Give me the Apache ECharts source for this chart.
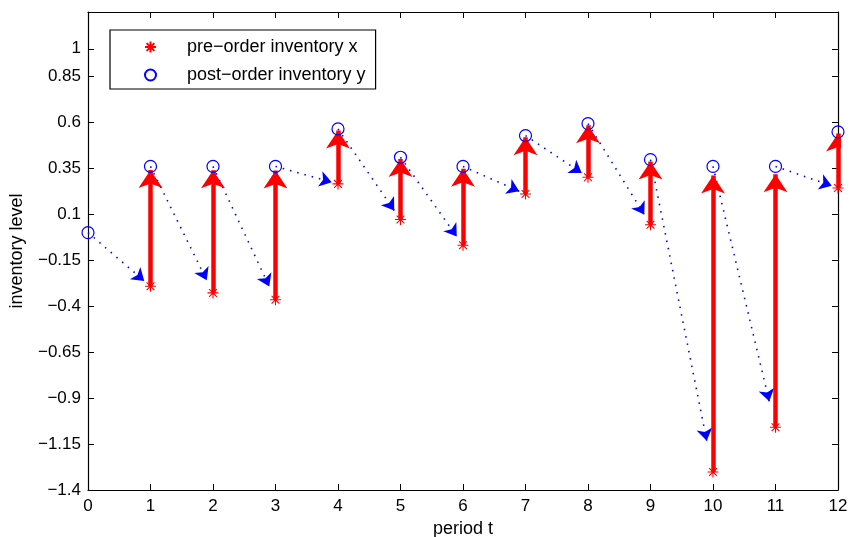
<!DOCTYPE html>
<html><head><meta charset="utf-8">
<script src="https://cdn.jsdelivr.net/npm/echarts@6/dist/echarts.min.js"></script>
<style>html,body{margin:0;padding:0;background:#fff}#c{width:852px;height:537px}</style>
</head><body><div id="c"></div>
<script>
const periods = [0, 1, 2, 3, 4, 5, 6, 7, 8, 9, 10, 11, 12];
const postOrder = [0, 0.36, 0.36, 0.36, 0.564, 0.41, 0.36, 0.528, 0.593, 0.397, 0.36, 0.36, 0.548];
const preOrder = [null, -0.292, -0.328, -0.365, 0.265, 0.071, -0.069, 0.21, 0.301, 0.043, -1.302, -1.059, 0.243];
const yTickLabels = [-1.4, -1.15, -0.9, -0.65, -0.4, -0.15, 0.1, 0.35, 0.6, 0.85, 1];
const xTickLabels = [0, 1, 2, 3, 4, 5, 6, 7, 8, 9, 10, 11, 12];

const RED_SCALE = 0.97, BLUE_SCALE = 0.9;
const FONT = 'Liberation Sans, Arial, Helvetica, sans-serif';
const STAR = 'path://M6,0L6,12M0,6L12,6M1.76,1.76L10.24,10.24M1.76,10.24L10.24,1.76';
const minus = v => String(v).replace('-', '\u2212');

const redArrows = [], blueArrows = [];
for (let i = 1; i < periods.length; i++) {
  const x = preOrder[i], y = postOrder[i];
  redArrows.push({coords: [[periods[i], x], [periods[i], x + RED_SCALE * (y - x)]]});
  const x0 = periods[i - 1], y0 = postOrder[i - 1];
  blueArrows.push({coords: [[x0, y0], [x0 + BLUE_SCALE * (periods[i] - x0), y0 + BLUE_SCALE * (x - y0)]]});
}

const chart = echarts.init(document.getElementById('c'), null, {renderer: 'canvas'});
const axisLine = {show: true, onZero: false, lineStyle: {color: '#000', width: 1.2}};
const tick = {inside: true, length: 6, lineStyle: {color: '#000'}};
chart.setOption({
  animation: false,
  backgroundColor: '#fff',
  textStyle: {fontFamily: FONT},
  grid: {left: 88, right: 14, top: 12, bottom: 47, containLabel: false, outerBoundsMode: 'none'},
  legend: {
    left: 110, top: 30, orient: 'vertical',
    backgroundColor: '#fff', borderColor: '#000', borderWidth: 1.2,
    padding: [7, 10, 4, 34], itemGap: 8, itemWidth: 11, itemHeight: 11,
    textStyle: {fontFamily: FONT, fontSize: 18, lineHeight: 20, color: '#000', padding: [0, 0, 0, 26]},
    data: ['pre\u2212order inventory x', 'post\u2212order inventory y']
  },
  xAxis: [{
    type: 'value', min: 0, max: 12, interval: 1,
    name: 'period t', nameLocation: 'middle', nameGap: 27,
    nameTextStyle: {fontSize: 18, color: '#000', fontFamily: FONT},
    axisLine: axisLine, splitLine: {show: false},
    axisTick: tick,
    axisLabel: {fontSize: 17, color: '#000', margin: 8, fontFamily: FONT,
      customValues: xTickLabels, formatter: v => minus(v)}
  }, {
    type: 'value', min: 0, max: 12, interval: 1, position: 'top',
    axisLine: axisLine, splitLine: {show: false},
    axisTick: tick,
    axisLabel: {show: false}
  }],
  yAxis: [{
    type: 'value', min: -1.4, max: 1.2,
    name: 'inventory level', nameLocation: 'middle', nameGap: 62, nameRotate: 90,
    nameTextStyle: {fontSize: 18, color: '#000', fontFamily: FONT},
    axisLine: axisLine, splitLine: {show: false},
    axisTick: Object.assign({customValues: yTickLabels}, tick),
    axisLabel: {fontSize: 17, color: '#000', margin: 7, fontFamily: FONT,
      customValues: yTickLabels, formatter: v => minus(v)}
  }, {
    type: 'value', min: -1.4, max: 1.2, position: 'right',
    axisLine: axisLine, splitLine: {show: false},
    axisTick: Object.assign({customValues: yTickLabels}, tick),
    axisLabel: {show: false, customValues: yTickLabels}
  }],
  series: [
    {
      type: 'lines', coordinateSystem: 'cartesian2d', xAxisIndex: 0, yAxisIndex: 0,
      symbol: ['none', 'arrow'], symbolSize: [0, 12], silent: true,
      lineStyle: {color: '#0000ff', width: 1.6, type: [1.5, 6], opacity: 1, curveness: 0},
      data: blueArrows, z: 2
    },
    {
      type: 'lines', coordinateSystem: 'cartesian2d', xAxisIndex: 0, yAxisIndex: 0,
      symbol: ['none', 'arrow'], symbolSize: [0, 18], silent: true,
      lineStyle: {color: '#ff0000', width: 4.5, opacity: 1, curveness: 0},
      data: redArrows, z: 3
    },
    {
      name: 'pre\u2212order inventory x', type: 'scatter',
      symbol: STAR, symbolSize: 11,
      itemStyle: {color: 'rgba(0,0,0,0)', borderColor: '#ff0000', borderWidth: 1.1, opacity: 1},
      data: periods.map((t, i) => [t, preOrder[i]]).filter(d => d[1] !== null), z: 4
    },
    {
      name: 'post\u2212order inventory y', type: 'scatter',
      symbol: 'circle', symbolSize: 12,
      itemStyle: {color: 'rgba(0,0,0,0)', borderColor: '#0000ff', borderWidth: 1.2, opacity: 1},
      data: periods.map((t, i) => [t, postOrder[i]]), z: 4
    }
  ]
});
</script></body></html>
